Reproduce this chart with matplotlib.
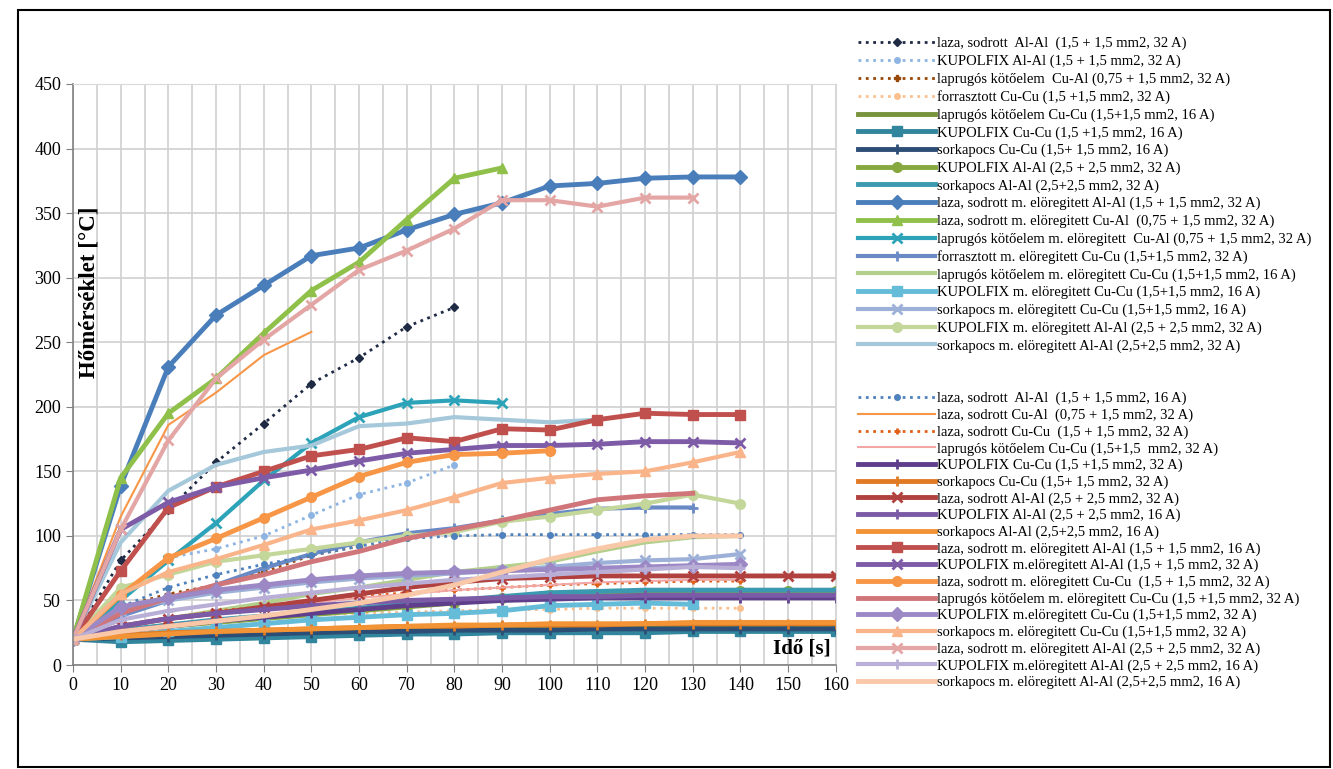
import matplotlib.pyplot as plt
from matplotlib.patches import Rectangle

plt.rcParams['font.family'] = ['Liberation Serif', 'DejaVu Serif']

# idő (s)
t = list(range(0, 170, 10))

# --- első csoport ---
labels1 = [
    "laza, sodrott  Al-Al  (1,5 + 1,5 mm2, 32 A)",
    "KUPOLFIX Al-Al (1,5 + 1,5 mm2, 32 A)",
    "laprugós kötőelem  Cu-Al (0,75 + 1,5 mm2, 32 A)",
    "forrasztott Cu-Cu (1,5 +1,5 mm2, 32 A)",
    "laprugós kötőelem Cu-Cu (1,5+1,5 mm2, 16 A)",
    "KUPOLFIX Cu-Cu (1,5 +1,5 mm2, 16 A)",
    "sorkapocs Cu-Cu (1,5+ 1,5 mm2, 16 A)",
    "KUPOLFIX Al-Al (2,5 + 2,5 mm2, 32 A)",
    "sorkapocs Al-Al (2,5+2,5 mm2, 32 A)",
    "laza, sodrott m. elöregitett Al-Al (1,5 + 1,5 mm2, 32 A)",
    "laza, sodrott m. elöregitett Cu-Al  (0,75 + 1,5 mm2, 32 A)",
    "laprugós kötőelem m. elöregitett  Cu-Al (0,75 + 1,5 mm2, 32 A)",
    "forrasztott m. elöregitett Cu-Cu (1,5+1,5 mm2, 32 A)",
    "laprugós kötőelem m. elöregitett Cu-Cu (1,5+1,5 mm2, 16 A)",
    "KUPOLFIX m. elöregitett Cu-Cu (1,5+1,5 mm2, 16 A)",
    "sorkapocs m. elöregitett Cu-Cu (1,5+1,5 mm2, 16 A)",
    "KUPOLFIX m. elöregitett Al-Al (2,5 + 2,5 mm2, 32 A)",
    "sorkapocs m. elöregitett Al-Al (2,5+2,5 mm2, 32 A)",
]
values1 = [
    [20, 81, 120, 157, 187, 218, 238, 262, 277],
    [20, 50, 83, 90, 100, 116, 132, 141, 155],
    [20, 45, 55, 62, 72, 85, 92],
    [20, 28, 32, 35, 37, 39, 40, 41, 42, 43, 43, 44, 44, 44, 44],
    [20, 22, 24, 25, 26, 27, 28, 29, 29, 30, 30, 30, 31, 31, 31, 31, 31],
    [20, 18, 19, 20, 21, 22, 23, 24, 24, 25, 25, 25, 25, 26, 26, 26, 26],
    [20, 21, 22, 23, 24, 25, 26, 26, 27, 27, 27, 28, 28, 28, 28, 28, 28],
    [20, 26, 30, 33, 36, 39, 42, 45, 48, 52, 54, 55, 56, 56, 57, 57, 57],
    [20, 27, 31, 35, 38, 41, 44, 47, 50, 53, 56, 57, 58, 58, 58, 58, 58],
    [20, 139, 231, 271, 294, 317, 323, 337, 349, 358, 371, 373, 377, 378, 378],
    [20, 145, 195, 222, 257, 290, 312, 345, 377, 385],
    [20, 50, 81, 110, 143, 172, 192, 203, 205, 203],
    [20, 38, 50, 62, 75, 86, 95, 102, 106, 112, 117, 121, 122, 122],
    [20, 30, 36, 42, 48, 55, 60, 66, 72, 76, 80, 88, 95, 99, 100],
    [20, 22, 26, 29, 32, 35, 37, 39, 40, 42, 46, 47, 48, 47],
    [20, 42, 50, 56, 60, 64, 67, 69, 71, 73, 76, 79, 81, 82, 86],
    [20, 60, 70, 80, 85, 90, 95, 100, 103, 111, 115, 120, 125, 132, 125],
    [20, 95, 135, 155, 165, 170, 185, 187, 192, 190, 188, 190],
]
colors1 = ['#1f2a44', '#8db4e2', '#984807', '#fac08f', '#77933c', '#31859c',
           '#2c4d75', '#86a83e', '#3c9ab0', '#4a7ebb', '#8fc04a', '#2ca3b8',
           '#6a8ac6', '#b3cf8c', '#65bcd8', '#9db0d8', '#c4d79b', '#a5c8da']
styles1 = [':', ':', ':', ':', '-', '-', '-', '-', '-',
           '-', '-', '-', '-', '-', '-', '-', '-', '-']
markers1 = ['D', 'o', 'P', 'o', '', 's', '+', 'o', '',
            'D', '^', 'x', '+', '', 's', 'x', 'o', '']
widths1 = [2, 2, 2, 2, 3.5, 3.5, 3.5, 3.5, 3.5,
           3.5, 3.5, 3, 3, 3, 3.5, 3, 3, 3]

# --- második csoport ---
labels2 = [
    "laza, sodrott  Al-Al  (1,5 + 1,5 mm2, 16 A)",
    "laza, sodrott Cu-Al  (0,75 + 1,5 mm2, 32 A)",
    "laza, sodrott Cu-Cu  (1,5 + 1,5 mm2, 32 A)",
    "laprugós kötőelem Cu-Cu (1,5+1,5  mm2, 32 A)",
    "KUPOLFIX Cu-Cu (1,5 +1,5 mm2, 32 A)",
    "sorkapocs Cu-Cu (1,5+ 1,5 mm2, 32 A)",
    "laza, sodrott Al-Al (2,5 + 2,5 mm2, 32 A)",
    "KUPOLFIX Al-Al (2,5 + 2,5 mm2, 16 A)",
    "sorkapocs Al-Al (2,5+2,5 mm2, 16 A)",
    "laza, sodrott m. elöregitett Al-Al (1,5 + 1,5 mm2, 16 A)",
    "KUPOLFIX m.elöregitett Al-Al (1,5 + 1,5 mm2, 32 A)",
    "laza, sodrott m. elöregitett Cu-Cu  (1,5 + 1,5 mm2, 32 A)",
    "laprugós kötőelem m. elöregitett Cu-Cu (1,5 +1,5 mm2, 32 A)",
    "KUPOLFIX m.elöregitett Cu-Cu (1,5+1,5 mm2, 32 A)",
    "sorkapocs m. elöregitett Cu-Cu (1,5+1,5 mm2, 32 A)",
    "laza, sodrott m. elöregitett Al-Al (2,5 + 2,5 mm2, 32 A)",
    "KUPOLFIX m.elöregitett Al-Al (2,5 + 2,5 mm2, 16 A)",
    "sorkapocs m. elöregitett Al-Al (2,5+2,5 mm2, 16 A)",
]
values2 = [
    [20, 45, 60, 70, 78, 85, 92, 98, 100, 101, 101, 101, 101, 101, 101],
    [20, 115, 186, 211, 240, 258],
    [20, 30, 36, 42, 45, 50, 53, 56, 58, 60, 62, 63, 64, 65, 65],
    [20, 30, 35, 40, 44, 48, 52, 55, 58, 60, 62, 64, 65, 66, 66],
    [20, 26, 30, 34, 37, 40, 43, 46, 48, 50, 51, 52, 52, 52, 52, 52, 52],
    [20, 23, 25, 26, 27, 28, 29, 30, 30, 31, 31, 31, 32, 32, 32, 32, 32],
    [20, 30, 36, 40, 45, 50, 55, 60, 64, 67, 68, 69, 69, 69, 69, 69, 69],
    [20, 30, 36, 40, 43, 46, 48, 50, 51, 52, 53, 53, 54, 54, 54, 54, 54],
    [20, 22, 24, 26, 27, 28, 29, 30, 31, 31, 32, 32, 32, 33, 33, 33, 33],
    [20, 73, 122, 138, 150, 162, 167, 176, 173, 183, 182, 190, 195, 194, 194],
    [20, 105, 126, 138, 145, 151, 158, 164, 167, 170, 170, 171, 173, 173, 172],
    [20, 54, 83, 98, 114, 130, 146, 157, 163, 164, 166],
    [20, 40, 52, 62, 70, 80, 88, 98, 105, 112, 120, 128, 131, 133],
    [20, 45, 52, 58, 62, 66, 69, 71, 72, 73, 74, 75, 76, 77, 78],
    [20, 55, 72, 82, 93, 105, 112, 120, 130, 141, 145, 148, 150, 157, 165],
    [20, 105, 174, 222, 252, 279, 306, 321, 338, 360, 360, 355, 362, 362],
    [20, 35, 42, 47, 52, 56, 60, 63, 66, 68, 70, 72, 74, 76, 75],
    [20, 26, 30, 34, 38, 43, 48, 54, 62, 72, 82, 90, 97, 100, 100],
]
colors2 = ['#4f81bd', '#f79646', '#e0601a', '#f2a7a7', '#5f3f8c', '#e07b24',
           '#b0413e', '#7b5aa6', '#f29436', '#c0504d', '#7d5ba6', '#f79646',
           '#d0767a', '#9c88c4', '#f9b48a', '#e4a5a5', '#b8aed6', '#f9c8a8']
styles2 = [':', '-', ':', '-', '-', '-', '-', '-', '-',
           '-', '-', '-', '-', '-', '-', '-', '-', '-']
markers2 = ['o', '', '+', '', '+', '+', 'x', '+', '',
            's', 'x', 'o', '', 'D', '^', 'x', '+', '']
widths2 = [2, 1.5, 2, 1.5, 3.5, 3.5, 3.5, 3.5, 3.5,
           3.5, 3.5, 3.5, 3.5, 3.5, 3, 3, 3, 3.5]

fig = plt.figure(figsize=(13.33, 7.69), dpi=100)
ax = fig.add_axes([0.0548, 0.1352, 0.5722, 0.7556])


def draw(labels, values, colors, styles, markers, widths):
    handles = []
    for lab, v, c, ls, m, lw in zip(labels, values, colors, styles, markers, widths):
        ms = 4 if ls == ':' else 7
        h, = ax.plot(t[:len(v)], v, color=c, linestyle=ls, linewidth=lw,
                     marker=m if m else None, markersize=ms,
                     markeredgewidth=2 if m in ('x', '+') else 1,
                     label=lab)
        handles.append(h)
    return handles


h1 = draw(labels1, values1, colors1, styles1, markers1, widths1)
h2 = draw(labels2, values2, colors2, styles2, markers2, widths2)

ax.set_xlim(0, 160)
ax.set_ylim(0, 450)
ax.set_xticks(range(0, 170, 10))
ax.set_xticks(range(5, 160, 10), minor=True)
ax.set_yticks(range(0, 500, 50))
ax.grid(which='both', axis='x', color='#d0d0d0', linewidth=1.2)
ax.grid(which='major', axis='y', color='#d0d0d0', linewidth=1.2)
ax.set_axisbelow(True)
ax.tick_params(which='minor', length=0)
ax.tick_params(which='major', length=5, color='#808080', labelsize=13)
for side in ('top', 'right'):
    ax.spines[side].set_color('#d9d9d9')
for side in ('left', 'bottom'):
    ax.spines[side].set_color('#808080')
    ax.spines[side].set_linewidth(1.2)

fig.text(0.067, 0.62, "Hőmérséklet [°C]", rotation=90, fontsize=16.5,
         fontweight='bold', ha='center', va='center')
ax.text(159, 5, "Idő [s]", fontsize=15, fontweight='bold', ha='right', va='bottom')

leg_kw = dict(loc='upper left', frameon=False, fontsize=10.5, handlelength=5.3,
              handletextpad=0.15, borderpad=0, borderaxespad=0, numpoints=1)
fig.legend(handles=h1, bbox_to_anchor=(858 / 1333, 1 - 37 / 769),
           labelspacing=0.29, **leg_kw)
fig.legend(handles=h2, bbox_to_anchor=(858 / 1333, 1 - 392 / 769),
           labelspacing=0.22, **leg_kw)

fig.patches.append(Rectangle((18 / 1333, 2 / 769), 1312 / 1333, 757 / 769,
                             transform=fig.transFigure, fill=False,
                             edgecolor='black', linewidth=1.5))

fig.savefig("out.png", dpi=100)
